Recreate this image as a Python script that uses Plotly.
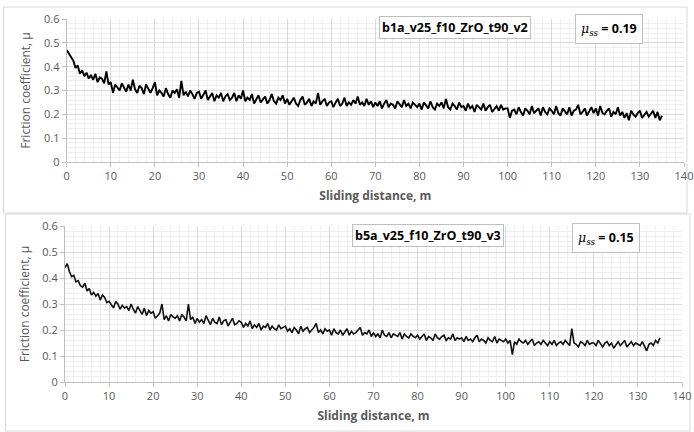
import plotly.graph_objects as go

STEP = 0.5  # sampling of the read-off values, m
dist = [i * STEP for i in range(271)]

mu_b1a = [
    0.47,0.455,0.44,0.425,0.395,0.405,0.37,0.385,0.36,0.375,0.35,0.365,0.345,0.37,0.335,0.355,0.35,0.33,0.38,0.325,
    0.335,0.29,0.325,0.31,0.3,0.33,0.315,0.295,0.325,0.3,0.345,0.305,0.29,0.32,0.31,0.285,0.325,0.305,0.29,0.31,
    0.335,0.28,0.3,0.29,0.275,0.31,0.285,0.27,0.3,0.29,0.305,0.27,0.34,0.28,0.295,0.275,0.3,0.285,0.265,0.29,
    0.295,0.265,0.28,0.3,0.26,0.275,0.29,0.255,0.28,0.27,0.29,0.255,0.275,0.285,0.26,0.27,0.29,0.255,0.28,0.265,
    0.3,0.255,0.27,0.26,0.285,0.245,0.265,0.28,0.25,0.265,0.275,0.245,0.26,0.285,0.255,0.245,0.27,0.26,0.28,0.245,
    0.265,0.24,0.255,0.27,0.245,0.235,0.26,0.275,0.24,0.25,0.265,0.235,0.255,0.245,0.29,0.24,0.255,0.265,0.235,0.25,
    0.255,0.23,0.25,0.265,0.235,0.245,0.27,0.235,0.25,0.24,0.26,0.245,0.275,0.24,0.25,0.235,0.265,0.24,0.255,0.23,
    0.25,0.235,0.255,0.225,0.245,0.26,0.23,0.245,0.24,0.225,0.255,0.24,0.23,0.26,0.235,0.245,0.225,0.25,0.24,0.23,
    0.245,0.22,0.25,0.235,0.225,0.255,0.23,0.22,0.245,0.235,0.25,0.225,0.265,0.23,0.22,0.245,0.235,0.22,0.25,0.23,
    0.235,0.215,0.245,0.225,0.235,0.21,0.24,0.23,0.22,0.245,0.215,0.23,0.24,0.21,0.225,0.235,0.215,0.24,0.22,0.225,
    0.225,0.185,0.215,0.22,0.2,0.23,0.21,0.195,0.225,0.215,0.2,0.235,0.205,0.215,0.225,0.195,0.23,0.21,0.2,0.225,
    0.215,0.2,0.235,0.205,0.195,0.225,0.21,0.2,0.23,0.195,0.215,0.22,0.24,0.2,0.21,0.225,0.195,0.215,0.23,0.205,
    0.225,0.195,0.235,0.205,0.2,0.215,0.225,0.19,0.21,0.2,0.23,0.195,0.21,0.185,0.205,0.175,0.215,0.2,0.19,0.205,
    0.215,0.185,0.2,0.21,0.19,0.205,0.215,0.185,0.21,0.175,0.195,
]

mu_b5a = [
    0.44,0.455,0.425,0.405,0.41,0.385,0.39,0.37,0.365,0.38,0.35,0.36,0.335,0.345,0.33,0.34,0.315,0.335,0.325,0.305,
    0.31,0.295,0.285,0.31,0.3,0.28,0.295,0.285,0.29,0.275,0.3,0.28,0.265,0.29,0.275,0.26,0.285,0.255,0.275,0.265,
    0.27,0.245,0.255,0.265,0.3,0.24,0.255,0.235,0.26,0.25,0.245,0.255,0.235,0.26,0.25,0.235,0.3,0.24,0.25,0.225,
    0.245,0.23,0.24,0.225,0.255,0.235,0.22,0.245,0.23,0.225,0.25,0.22,0.235,0.24,0.215,0.23,0.245,0.22,0.225,0.235,
    0.23,0.21,0.225,0.215,0.235,0.205,0.22,0.21,0.225,0.2,0.215,0.21,0.225,0.2,0.215,0.205,0.2,0.22,0.205,0.21,
    0.215,0.195,0.205,0.19,0.21,0.2,0.185,0.215,0.195,0.205,0.21,0.19,0.2,0.21,0.225,0.19,0.2,0.185,0.205,0.195,
    0.2,0.18,0.205,0.19,0.185,0.2,0.18,0.195,0.205,0.18,0.195,0.185,0.19,0.2,0.21,0.18,0.19,0.185,0.2,0.175,
    0.19,0.175,0.185,0.17,0.2,0.18,0.175,0.19,0.17,0.185,0.18,0.175,0.19,0.165,0.185,0.175,0.17,0.185,0.175,0.17,
    0.18,0.165,0.175,0.185,0.16,0.175,0.17,0.16,0.185,0.17,0.165,0.175,0.18,0.16,0.17,0.165,0.185,0.16,0.17,0.165,
    0.17,0.155,0.175,0.16,0.165,0.155,0.17,0.18,0.155,0.165,0.16,0.15,0.17,0.16,0.155,0.175,0.15,0.165,0.16,0.155,
    0.165,0.15,0.16,0.105,0.155,0.145,0.165,0.155,0.15,0.16,0.145,0.155,0.165,0.14,0.15,0.155,0.145,0.16,0.15,0.14,
    0.155,0.145,0.16,0.14,0.15,0.155,0.145,0.16,0.15,0.14,0.205,0.15,0.145,0.135,0.155,0.15,0.14,0.16,0.145,0.15,
    0.15,0.14,0.16,0.145,0.135,0.15,0.155,0.14,0.15,0.13,0.145,0.155,0.14,0.15,0.16,0.135,0.145,0.155,0.14,0.15,
    0.145,0.14,0.155,0.135,0.12,0.145,0.15,0.14,0.16,0.15,0.17,
]

labels = ["b1a_v25_f10_ZrO_t90_v2", "b5a_v25_f10_ZrO_t90_v3"]
mu_ss = ["0.19", "0.15"]
x_ticks = list(range(0, 141, 10))
y_ticks = [0, 0.1, 0.2, 0.3, 0.4, 0.5, 0.6]
y_ticktext = ["0", "0.1", "0.2", "0.3", "0.4", "0.5", "0.6"]

W, H = 694, 432
FONT = "Open Sans"
GRAY = "#595959"

fig = go.Figure()
fig.add_trace(go.Scatter(x=dist[:len(mu_b1a)], y=mu_b1a, mode="lines",
                         line=dict(color="black", width=1.9), xaxis="x", yaxis="y"))
fig.add_trace(go.Scatter(x=dist[:len(mu_b5a)], y=mu_b5a, mode="lines",
                         line=dict(color="#111111", width=1.6), xaxis="x2", yaxis="y2"))

def px_x(p):
    return p / W

def px_y(p):
    return 1 - p / H

def xaxis(domain, anchor):
    return dict(domain=domain, anchor=anchor, range=[0, 140], tickvals=x_ticks,
                showgrid=True, gridcolor="#d9d9d9", gridwidth=1,
                minor=dict(dtick=2, showgrid=True, gridcolor="#efefef", gridwidth=1),
                showline=True, linecolor="#bfbfbf", linewidth=1,
                ticks="outside", ticklen=4, tickcolor="#bfbfbf",
                tickfont=dict(family=FONT, size=11, color=GRAY),
                title=dict(text="<b>Sliding distance, m</b>",
                           font=dict(family=FONT, size=12, color=GRAY), standoff=9),
                automargin=False, zeroline=False, fixedrange=True)

def yaxis(domain, anchor):
    return dict(domain=domain, anchor=anchor, range=[0, 0.6], tickvals=y_ticks,
                ticktext=y_ticktext,
                showgrid=True, gridcolor="#d9d9d9", gridwidth=1,
                minor=dict(dtick=0.02, showgrid=True, gridcolor="#efefef", gridwidth=1),
                showline=True, linecolor="#bfbfbf", linewidth=1,
                ticks="outside", ticklen=4, tickcolor="#bfbfbf",
                tickfont=dict(family=FONT, size=11, color=GRAY),
                title=dict(text="Friction coefficient, μ",
                           font=dict(family=FONT, size=12, color=GRAY), standoff=10),
                automargin=False, zeroline=False, fixedrange=True)

fig.update_layout(
    width=W, height=H,
    margin=dict(l=0, r=0, t=0, b=0, autoexpand=False),
    paper_bgcolor="white", plot_bgcolor="white",
    showlegend=False,
    xaxis=xaxis([px_x(66.7), px_x(684)], "y"),
    yaxis=yaxis([px_y(162), px_y(19)], "x"),
    xaxis2=xaxis([px_x(65), px_x(682)], "y2"),
    yaxis2=yaxis([px_y(382), px_y(226)], "x2"),
)

# panel frames
fig.add_shape(type="rect", xref="paper", yref="paper",
              x0=px_x(3.5), x1=px_x(687), y0=px_y(213), y1=px_y(7),
              line=dict(color="#d9d9d9", width=1), layer="below")
fig.add_shape(type="rect", xref="paper", yref="paper",
              x0=px_x(5.5), x1=px_x(690), y0=px_y(431), y1=px_y(214),
              line=dict(color="#d9d9d9", width=1), layer="below")

# label boxes
label_pos = [(455, 28), (427.5, 235)]
mu_pos = [(609, 29.5), (605.5, 237.5)]
for lab, (cx, cy) in zip(labels, label_pos):
    fig.add_annotation(xref="paper", yref="paper", x=px_x(cx), y=px_y(cy),
                       xanchor="center", yanchor="middle",
                       text="<b>" + lab + "</b>", showarrow=False,
                       font=dict(family=FONT, size=12.5, color="black"),
                       bgcolor="white", bordercolor="#bfbfbf", borderwidth=1, borderpad=2)
for val, (cx, cy) in zip(mu_ss, mu_pos):
    fig.add_annotation(xref="paper", yref="paper", x=px_x(cx), y=px_y(cy),
                       xanchor="center", yanchor="middle",
                       text=("<span style='font-family:DejaVu Serif'><i>μ<sub>ss</sub></i></span>"
                             " <b>= " + val + "</b>"),
                       showarrow=False,
                       font=dict(family=FONT, size=12.5, color="black"),
                       bgcolor="white", bordercolor="#bfbfbf", borderwidth=1, borderpad=5)

fig.write_html("out.html", config={"displayModeBar": False},
               post_script="document.body.style.margin='0';")
